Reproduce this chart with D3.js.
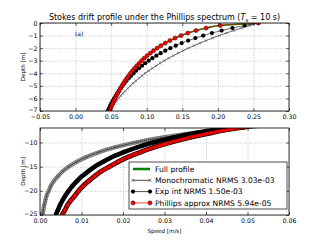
<!DOCTYPE html>
<html>
<head>
<meta charset="utf-8">
<script src="https://cdn.jsdelivr.net/npm/d3@7"></script>
<style>
  body { margin: 0; background: #fff; }
  text { font-family: "DejaVu Sans", sans-serif; fill: #000; }
</style>
</head>
<body>
<div id="chart"></div>
<script>
// depth [m], 0.2 m steps near the surface, 1 m steps below -7 m
var depth = [0, -0.2, -0.4, -0.6, -0.8, -1.0, -1.2, -1.4, -1.6, -1.8,
    -2.0, -2.2, -2.4, -2.6, -2.8, -3.0, -3.2, -3.4, -3.6, -3.8,
    -4.0, -4.2, -4.4, -4.6, -4.8, -5.0, -5.2, -5.4, -5.6, -5.8,
    -6.0, -6.2, -6.4, -6.6, -6.8, -7.0,
    -8, -9, -10, -11, -12, -13, -14, -15, -16, -17, -18, -19, -20, -21, -22, -23, -24, -25];

// speed [m/s]
var fullProfile = [0.257, 0.2034, 0.1835, 0.1693, 0.1578, 0.1482, 0.1399, 0.1326, 0.1260, 0.1200,
    0.1146, 0.1096, 0.1050, 0.1006, 0.0966, 0.0929, 0.0894, 0.0860, 0.0829, 0.0800,
    0.0772, 0.0745, 0.0720, 0.0696, 0.0673, 0.0651, 0.0630, 0.0610, 0.0591, 0.0573,
    0.0555, 0.0538, 0.0522, 0.0506, 0.0492, 0.0477,
    0.0413, 0.0359, 0.0314, 0.0275, 0.0242, 0.0212, 0.0188, 0.0167, 0.0147, 0.0131,
    0.0117, 0.0104, 0.0093, 0.0084, 0.0074, 0.0066, 0.0060, 0.0053];

var mono = [0.257, 0.2449, 0.2334, 0.2224, 0.2119, 0.2019, 0.1924, 0.1834, 0.1747, 0.1665,
    0.1586, 0.1512, 0.1441, 0.1373, 0.1308, 0.1246, 0.1188, 0.1132, 0.1079, 0.1028,
    0.0979, 0.0933, 0.0889, 0.0847, 0.0807, 0.0769, 0.0733, 0.0699, 0.0666, 0.0634,
    0.0605, 0.0576, 0.0549, 0.0523, 0.0499, 0.0475,
    0.0373, 0.0293, 0.0230, 0.0181, 0.0142, 0.0112, 0.0088, 0.0069, 0.0054, 0.0043,
    0.0033, 0.0026, 0.0021, 0.0016, 0.0013, 0.0010, 0.0008, 0.0006];

var expInt = [0.257, 0.2376, 0.2205, 0.2053, 0.1917, 0.1794, 0.1684, 0.1583, 0.1492, 0.1408,
    0.1332, 0.1261, 0.1196, 0.1136, 0.1080, 0.1028, 0.0979, 0.0934, 0.0892, 0.0852,
    0.0815, 0.0780, 0.0747, 0.0716, 0.0687, 0.0659, 0.0633, 0.0608, 0.0585, 0.0563,
    0.0542, 0.0521, 0.0502, 0.0484, 0.0467, 0.0450,
    0.0378, 0.0320, 0.0273, 0.0234, 0.0202, 0.0174, 0.0152, 0.0132, 0.0116, 0.0101,
    0.0089, 0.0078, 0.0069, 0.0061, 0.0054, 0.0048, 0.0043, 0.0038];

var phillips = [0.257, 0.2034, 0.1835, 0.1693, 0.1578, 0.1482, 0.1399, 0.1326, 0.1260, 0.1200,
    0.1146, 0.1096, 0.1050, 0.1006, 0.0966, 0.0929, 0.0894, 0.0860, 0.0829, 0.0800,
    0.0772, 0.0745, 0.0720, 0.0696, 0.0673, 0.0651, 0.0630, 0.0610, 0.0591, 0.0573,
    0.0555, 0.0538, 0.0522, 0.0506, 0.0492, 0.0477,
    0.0413, 0.0359, 0.0314, 0.0275, 0.0242, 0.0212, 0.0188, 0.0167, 0.0147, 0.0131,
    0.0117, 0.0104, 0.0093, 0.0084, 0.0074, 0.0066, 0.0060, 0.0053];

var topXTicks = [-0.05, 0.00, 0.05, 0.10, 0.15, 0.20, 0.25, 0.30];
var topYTicks = [0, -1, -2, -3, -4, -5, -6, -7];
var botXTicks = [0.00, 0.01, 0.02, 0.03, 0.04, 0.05, 0.06];
var botYTicks = [-10, -15, -20, -25];

var legendLabels = ["Full profile", "Monochromatic NRMS 3.03e-03",
    "Exp int NRMS 1.50e-03", "Phillips approx NRMS 5.94e-05"];

var width = 320,
    height = 240;
var left = 40, right = 289;

var svg = d3.select("#chart")
    .append("svg")
    .attr("width", width)
    .attr("height", height);

var panels = [
    {id: "top", xd: [-0.05, 0.30], yd: [-7, 0], top: 23, bottom: 111, xt: topXTicks, yt: topYTicks, band: false},
    {id: "bot", xd: [0, 0.06], yd: [-25, -7], top: 128, bottom: 215, xt: botXTicks, yt: botYTicks, band: true}
];

function rows(vals) {
    return depth.map(function(z, i) { return {z: z, v: vals[i]}; });
}

// small "x" marker path centred on (cx, cy)
function cross(cx, cy, s) {
    return "M" + (cx - s) + "," + (cy - s) + "L" + (cx + s) + "," + (cy + s) +
           "M" + (cx - s) + "," + (cy + s) + "L" + (cx + s) + "," + (cy - s);
}

panels.forEach(function(p) {
    var x = d3.scaleLinear().domain(p.xd).range([left, right]);
    var y = d3.scaleLinear().domain(p.yd).range([p.bottom, p.top]);
    var h = p.bottom - p.top;
    var g = svg.append("g");

    svg.append("clipPath").attr("id", "clip-" + p.id)
        .append("rect")
        .attr("x", left).attr("y", p.top)
        .attr("width", right - left).attr("height", h);

    // dotted grid
    var gridX = g.append("g").attr("transform", "translate(0," + p.bottom + ")")
        .call(d3.axisBottom(x).tickValues(p.xt).tickSize(-h).tickFormat(""));
    var gridY = g.append("g").attr("transform", "translate(" + left + ",0)")
        .call(d3.axisLeft(y).tickValues(p.yt).tickSize(-(right - left)).tickFormat(""));
    [gridX, gridY].forEach(function(gg) {
        gg.select(".domain").remove();
        gg.selectAll("line").attr("stroke", "#888").attr("stroke-width", 0.5)
            .attr("stroke-dasharray", "1,1.5");
    });

    var plot = g.append("g").attr("clip-path", "url(#clip-" + p.id + ")");
    var line = d3.line()
        .x(function(d) { return x(d.v); })
        .y(function(d) { return y(d.z); })
        .curve(d3.curveMonotoneY);

    // full profile
    plot.append("path").datum(rows(fullProfile))
        .attr("d", line).attr("fill", "none")
        .attr("stroke", "#008000").attr("stroke-width", 1.6);

    // monochromatic
    var monoRows = rows(mono);
    if (p.band) {
        plot.append("path").datum(monoRows).attr("d", line).attr("fill", "none")
            .attr("stroke", "#777").attr("stroke-width", 4.2);
        plot.append("path").datum(monoRows).attr("d", line).attr("fill", "none")
            .attr("stroke", "#bbb").attr("stroke-width", 2.4)
            .attr("stroke-dasharray", "1,1");
    }
    plot.append("path").datum(monoRows).attr("d", line).attr("fill", "none")
        .attr("stroke", "#000").attr("stroke-width", 0.6);
    plot.append("g").selectAll("path").data(monoRows).enter().append("path")
        .attr("d", function(d) { return cross(x(d.v), y(d.z), 1.3); })
        .attr("fill", "none")
        .attr("stroke", "#555").attr("stroke-width", 0.6);

    // exponential integral
    var expRows = rows(expInt);
    if (p.band) {
        plot.append("path").datum(expRows).attr("d", line).attr("fill", "none")
            .attr("stroke", "#000").attr("stroke-width", 4.6);
    }
    plot.append("path").datum(expRows).attr("d", line).attr("fill", "none")
        .attr("stroke", "#000").attr("stroke-width", 0.6);
    plot.append("g").selectAll("circle").data(expRows).enter().append("circle")
        .attr("cx", function(d) { return x(d.v); })
        .attr("cy", function(d) { return y(d.z); })
        .attr("r", 2.1).attr("fill", "#000");

    // phillips approx
    var phRows = rows(phillips);
    if (p.band) {
        plot.append("path").datum(phRows).attr("d", line).attr("fill", "none")
            .attr("stroke", "#000").attr("stroke-width", 4.8);
        plot.append("path").datum(phRows).attr("d", line).attr("fill", "none")
            .attr("stroke", "#e00000").attr("stroke-width", 3.4);
    }
    plot.append("path").datum(phRows).attr("d", line).attr("fill", "none")
        .attr("stroke", "#ff0000").attr("stroke-width", 0.6);
    plot.append("g").selectAll("circle").data(phRows).enter().append("circle")
        .attr("cx", function(d) { return x(d.v); })
        .attr("cy", function(d) { return y(d.z); })
        .attr("r", 2.1).attr("fill", "#ff0000")
        .attr("stroke", "#000").attr("stroke-width", 0.4);

    // frame
    g.append("rect")
        .attr("x", left).attr("y", p.top)
        .attr("width", right - left).attr("height", h)
        .attr("fill", "none").attr("stroke", "#000").attr("stroke-width", 0.8);

    // axes with inward ticks
    var xAxis = g.append("g").attr("transform", "translate(0," + p.bottom + ")")
        .call(d3.axisBottom(x).tickValues(p.xt).tickFormat(d3.format(".2f"))
            .tickSizeInner(-3).tickSizeOuter(0).tickPadding(3.5));
    var yAxis = g.append("g").attr("transform", "translate(" + left + ",0)")
        .call(d3.axisLeft(y).tickValues(p.yt).tickFormat(d3.format("d"))
            .tickSizeInner(-3).tickSizeOuter(0).tickPadding(2.5));
    var xTop = g.append("g").attr("transform", "translate(0," + p.top + ")")
        .call(d3.axisTop(x).tickValues(p.xt).tickFormat("").tickSizeInner(-3).tickSizeOuter(0));
    var yRight = g.append("g").attr("transform", "translate(" + right + ",0)")
        .call(d3.axisRight(y).tickValues(p.yt).tickFormat("").tickSizeInner(-3).tickSizeOuter(0));
    [xAxis, yAxis, xTop, yRight].forEach(function(a) {
        a.select(".domain").remove();
        a.selectAll("line").attr("stroke", "#000").attr("stroke-width", 0.6);
        a.selectAll("text").attr("font-size", "6.3px").attr("font-family", "DejaVu Sans").attr("fill", "#000");
    });
    // lowest depth label sits in the corner next to the first speed label
    yAxis.selectAll("text").filter(function(d) { return d === p.yd[0]; })
        .attr("dy", "0.05em");

    g.append("text")
        .attr("transform", "translate(25," + (p.top + h / 2) + ") rotate(-90)")
        .attr("text-anchor", "middle")
        .style("font-size", "5.6px")
        .text("Depth [m]");
});

// title
var title = svg.append("text")
    .attr("x", (left + right) / 2)
    .attr("y", 20)
    .attr("text-anchor", "middle")
    .style("font-size", "8px")
    .text("Stokes drift profile under the Phillips spectrum (");
title.append("tspan").style("font-style", "italic").text("T");
title.append("tspan").attr("dy", 1.5).style("font-size", "5.5px").text("s");
title.append("tspan").attr("dy", -1.5).text(" = 10 s)");

svg.append("text")
    .attr("x", 75).attr("y", 36)
    .style("font-size", "6px")
    .text("(a)");

svg.append("text")
    .attr("x", (left + right) / 2).attr("y", 233)
    .attr("text-anchor", "middle")
    .style("font-size", "5.6px")
    .text("Speed [m/s]");

// legend
var legend = svg.append("g").attr("transform", "translate(129,162)");
legend.append("rect")
    .attr("width", 158).attr("height", 47)
    .attr("fill", "#fff").attr("stroke", "#000").attr("stroke-width", 0.7);

var entries = legend.selectAll("g.entry")
    .data(legendLabels)
    .enter().append("g")
    .attr("class", "entry")
    .attr("transform", function(d, i) { return "translate(0," + (7 + i * 11.3) + ")"; });

entries.append("text")
    .attr("x", 26).attr("dy", "0.35em")
    .style("font-size", "7.6px")
    .text(function(d) { return d; });

entries.each(function(d, i) {
    var e = d3.select(this);
    if (i === 0) {
        e.append("line").attr("x1", 4).attr("x2", 21).attr("stroke", "#008000").attr("stroke-width", 2.5);
        return;
    }
    var col = i === 3 ? "#ff0000" : "#000";
    e.append("line").attr("x1", 4).attr("x2", 21).attr("stroke", col).attr("stroke-width", 0.7);
    if (i === 1) {
        e.selectAll("path").data([4, 21]).enter().append("path")
            .attr("d", function(px) { return cross(px, 0, 1.5); })
            .attr("stroke", "#444").attr("stroke-width", 0.7);
    } else {
        e.selectAll("circle").data([4, 21]).enter().append("circle")
            .attr("cx", function(px) { return px; }).attr("cy", 0).attr("r", 2.1)
            .attr("fill", col)
            .attr("stroke", "#000").attr("stroke-width", i === 3 ? 0.4 : 0);
    }
});
</script>
</body>
</html>
